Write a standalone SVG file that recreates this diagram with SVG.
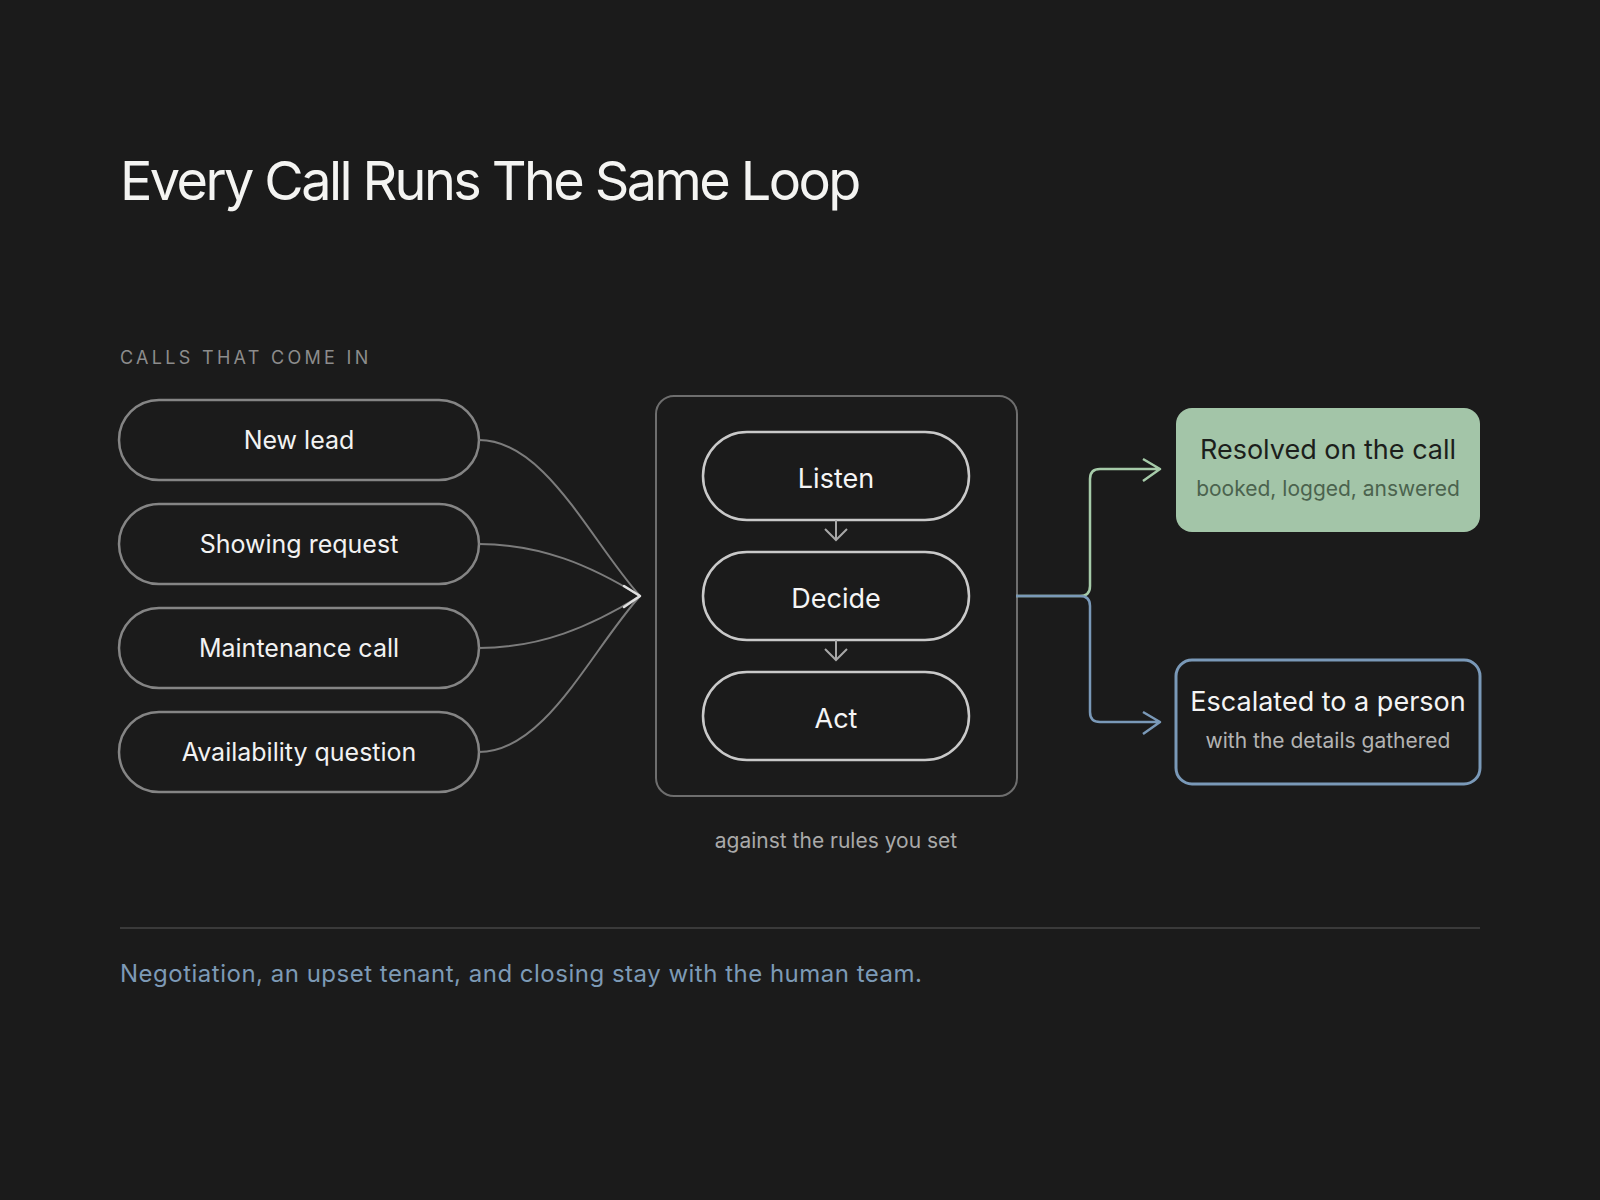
<svg xmlns="http://www.w3.org/2000/svg" width="1600" height="1200" viewBox="0 0 1600 1200">
<style>
text{font-family:Inter,"Liberation Sans",sans-serif}
.pill{fill:#1b1b1b;stroke:#858585;stroke-width:2.5}
.step{fill:#1b1b1b;stroke:#c9c9c9;stroke-width:2.5}
.lbl{fill:#f2f2f2;font-size:25px;text-anchor:middle}
.slbl{fill:#f5f5f5;font-size:27px;text-anchor:middle}
.curve{fill:none;stroke:#7c7c7c;stroke-width:2}
</style>
<rect width="1600" height="1200" fill="#1b1b1b"/>
<text x="120" y="200" font-size="54" fill="#f4f4f2" letter-spacing="-2.6">Every Call Runs The Same Loop</text>
<text x="120" y="364" font-size="18" fill="#8c8c8c" letter-spacing="3.3">CALLS THAT COME IN</text>

<g id="in-new-lead"><rect class="pill" x="119" y="400" width="360" height="80" rx="40"/><text class="lbl" x="299" y="449">New lead</text></g>
<g id="in-showing"><rect class="pill" x="119" y="504" width="360" height="80" rx="40"/><text class="lbl" x="299" y="553">Showing request</text></g>
<g id="in-maintenance"><rect class="pill" x="119" y="608" width="360" height="80" rx="40"/><text class="lbl" x="299" y="657">Maintenance call</text></g>
<g id="in-availability"><rect class="pill" x="119" y="712" width="360" height="80" rx="40"/><text class="lbl" x="299" y="761">Availability question</text></g>

<g id="loop">
<rect x="656" y="396" width="361" height="400" rx="18" fill="none" stroke="#6e6e6e" stroke-width="2"/>
<text x="836" y="848" font-size="21" fill="#a9a9a9" text-anchor="middle">against the rules you set</text>
</g>
<g id="step-listen"><rect class="step" x="703" y="432" width="266" height="88" rx="44"/><text class="slbl" x="836" y="488">Listen</text></g>
<g id="step-decide"><rect class="step" x="703" y="552" width="266" height="88" rx="44"/><text class="slbl" x="836" y="608">Decide</text></g>
<g id="step-act"><rect class="step" x="703" y="672" width="266" height="88" rx="44"/><text class="slbl" x="836" y="728">Act</text></g>

<g id="out-resolved">
<rect x="1176" y="408" width="304" height="124" rx="16" fill="#a3c5a8"/>
<text x="1328" y="459" font-size="27" fill="#1c1f1c" text-anchor="middle">Resolved on the call</text>
<text x="1328" y="496" font-size="21" fill="#4b634e" text-anchor="middle">booked, logged, answered</text>
</g>
<g id="out-escalated">
<rect x="1176" y="660" width="304" height="124" rx="16" fill="#1b1b1b" stroke="#7a99b8" stroke-width="3"/>
<text x="1328" y="711" font-size="27" fill="#f4f4f4" text-anchor="middle">Escalated to a person</text>
<text x="1328" y="748" font-size="21" fill="#b3b3b3" text-anchor="middle">with the details gathered</text>
</g>

<g id="connectors">
<path class="curve" d="M479,440 C545,440 590,540 640,596"/>
<path class="curve" d="M479,544 C540,544 590,565 640,596"/>
<path class="curve" d="M479,648 C540,648 590,627 640,596"/>
<path class="curve" d="M479,752 C545,752 590,652 640,596"/>
<path d="M624,586 L640,596 L624,607" fill="none" stroke="#e0e0e0" stroke-width="2.5" stroke-linecap="round" stroke-linejoin="round"/>
<path d="M836,520 V540 M825,529 L836,540 L847,529" fill="none" stroke="#a8a8a8" stroke-width="2"/>
<path d="M836,640 V660 M825,649 L836,660 L847,649" fill="none" stroke="#a8a8a8" stroke-width="2"/>
<path d="M1016,596 H1080 Q1090,596 1090,586 V479 Q1090,469 1100,469 H1160 M1143,459 L1160,469 L1143,481" fill="none" stroke="#a6cba9" stroke-width="2.5" stroke-linejoin="round"/>
<path d="M1016,596 H1080 Q1090,596 1090,606 V712 Q1090,722 1100,722 H1160 M1143,712 L1160,722 L1143,734" fill="none" stroke="#7a99b8" stroke-width="2.5" stroke-linejoin="round"/>
</g>

<line x1="120" y1="928" x2="1480" y2="928" stroke="#3a3a3a" stroke-width="2"/>
<text x="120" y="982" font-size="24" fill="#7d9ab6" letter-spacing="0.5">Negotiation, an upset tenant, and closing stay with the human team.</text>
</svg>
